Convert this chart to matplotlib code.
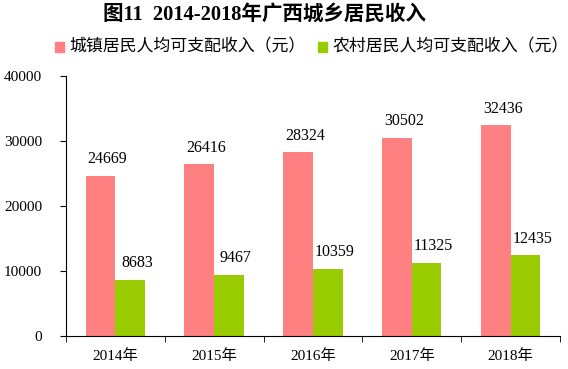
import matplotlib
matplotlib.use("Agg")
import matplotlib.pyplot as plt
import numpy as np
from matplotlib.patches import Rectangle

plt.rcParams['font.family'] = ['Liberation Serif', 'Noto Sans CJK SC']

years = ['2014年', '2015年', '2016年', '2017年', '2018年']
urban = [24669, 26416, 28324, 30502, 32436]
rural = [8683, 9467, 10359, 11325, 12435]
urban_name = '城镇居民人均可支配收入（元）'
rural_name = '农村居民人均可支配收入（元）'
title = '图11  2014-2018年广西城乡居民收入'

pink = '#FF8080'
green = '#99CC00'

W, H = 568, 369
fig = plt.figure(figsize=(W / 100, H / 100), dpi=100)
ax = fig.add_axes([0.116, 0.089, 0.870, 0.705])

x = np.arange(len(years))
w = 0.3
b1 = ax.bar(x - w / 2, urban, w, color=pink)
b2 = ax.bar(x + w / 2, rural, w, color=green)

for bars, vals in ((b1, urban), (b2, rural)):
    for r, v in zip(bars, vals):
        ax.annotate(str(v), (r.get_x() + r.get_width() / 2 + 0.07, v),
                    xytext=(0, 6), textcoords='offset points',
                    ha='center', va='bottom', fontsize=11.5)

ax.set_xlim(-0.5, len(years) - 0.5)
ax.set_ylim(0, 40000)
ax.set_yticks(range(0, 40001, 10000))
ax.tick_params(axis='y', labelsize=11, length=4, pad=13)
ax.set_xticks(x)
ax.set_xticklabels(years, fontsize=11)
ax.tick_params(axis='x', length=0, pad=9)
ax.set_xticks(np.arange(-0.5, len(years)), minor=True)
ax.tick_params(axis='x', which='minor', length=4)
for s in ('top', 'right'):
    ax.spines[s].set_visible(False)

fig.text(264 / W, 1 - 15 / H, title, ha='center', va='center', fontsize=14.8,
         fontweight='bold')

# legend drawn by hand: square + label
for sx, col, name in ((55, pink, urban_name), (318, green, rural_name)):
    fig.patches.append(Rectangle((sx / W, 1 - 52 / H), 9 / W, 10 / H,
                                 color=col, transform=fig.transFigure))
    fig.text((sx + 14) / W, 1 - 47 / H, name, ha='left', va='center',
             fontsize=12.2)

fig.savefig('out.png', dpi=100)
